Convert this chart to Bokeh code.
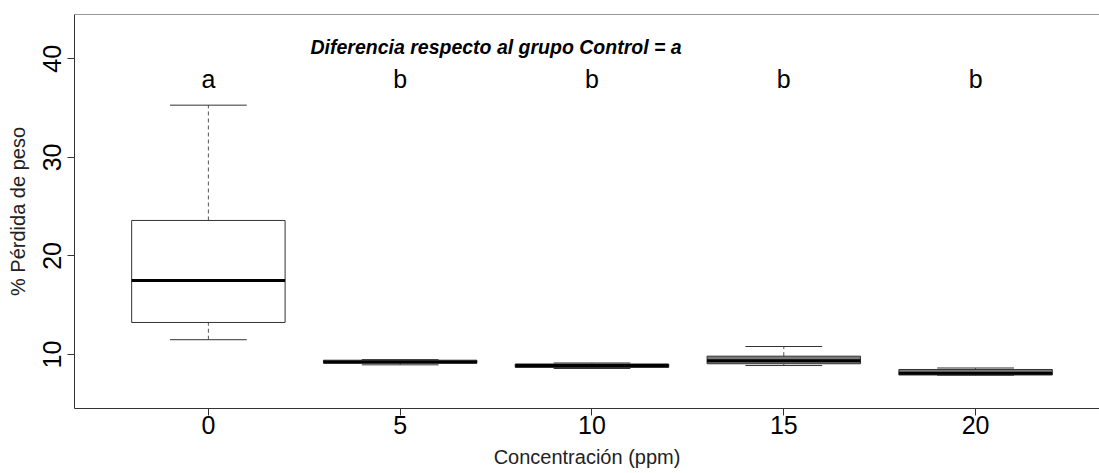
import math
from bokeh.plotting import figure
from bokeh.models import Range1d, FixedTicker, Span, ColumnDataSource
from bokeh.core.properties import value
from bokeh.embed import file_html
from bokeh.resources import INLINE

# ---- data ----
concentrations = ["0", "5", "10", "15", "20"]
whisker_low = [11.5, 8.95, 8.58, 8.88, 7.90]
q1 = [13.25, 9.12, 8.68, 9.06, 7.92]
median = [17.5, 9.25, 8.88, 9.36, 8.10]
q3 = [23.6, 9.42, 9.04, 9.83, 8.48]
whisker_high = [35.3, 9.48, 9.14, 10.81, 8.63]
letters = ["a", "b", "b", "b", "b"]
box_fill = ["white", "#7a7a7a", "#7a7a7a", "#7a7a7a", "#7a7a7a"]
title_text = "Diferencia respecto al grupo Control = a"

FONT = "Liberation Sans"
pos = list(range(1, len(concentrations) + 1))
half = 0.4
cap = 0.2

src = ColumnDataSource(dict(
    x=pos,
    left=[p_ - half for p_ in pos], right=[p_ + half for p_ in pos],
    cl=[p_ - cap for p_ in pos], cr=[p_ + cap for p_ in pos],
    lo=whisker_low, q1=q1, med=median, q3=q3, hi=whisker_high,
    fill=box_fill, lab=letters,
))

p = figure(width=1099, height=473, output_backend="svg", toolbar_location=None,
           x_range=Range1d(0.302, 5.646), y_range=Range1d(4.52, 44.5),
           min_border_left=74, min_border_right=0, min_border_top=14,
           min_border_bottom=65)
p.outline_line_color = None
p.grid.visible = False
p.background_fill_color = "white"
p.border_fill_color = "white"

# whiskers (dashed)
p.segment(x0="x", y0="q3", x1="x", y1="hi", source=src, line_color="#555555",
          line_width=1, line_dash="4 3")
p.segment(x0="x", y0="lo", x1="x", y1="q1", source=src, line_color="#555555",
          line_width=1, line_dash="4 3")
# caps
p.segment(x0="cl", y0="hi", x1="cr", y1="hi", source=src, line_color="#333333", line_width=1)
p.segment(x0="cl", y0="lo", x1="cr", y1="lo", source=src, line_color="#333333", line_width=1)
# boxes
p.quad(left="left", right="right", bottom="q1", top="q3", source=src,
       fill_color="fill", line_color="#333333", line_width=1)
# medians
p.segment(x0="left", y0="med", x1="right", y1="med", source=src, line_color="black",
          line_width=3)

# significance letters
letter_y = 38.0
p.text(x="x", y=letter_y, text="lab", source=src, text_font=value(FONT),
       text_font_size="25px", text_align="center", text_baseline="alphabetic",
       text_color="black")
# annotation
p.text(x=[2.5], y=[41.25], text=[title_text], text_font=value(FONT),
       text_font_size="19.5px", text_font_style="bold italic", text_align="center",
       text_baseline="alphabetic", text_color="black")

# frame lines
p.add_layout(Span(location=44.5, dimension="width", line_color="#333333", line_width=1))

# axes
xa = p.xaxis[0]
xa.ticker = FixedTicker(ticks=pos)
xa.major_label_overrides = {p_: c for p_, c in zip(pos, concentrations)}
xa.axis_label = "Concentración (ppm)"
ya = p.yaxis[0]
ya.ticker = FixedTicker(ticks=[10, 20, 30, 40])
ya.axis_label = "% Pérdida de peso"
ya.major_label_orientation = "vertical"
for ax in (xa, ya):
    ax.axis_line_color = "#333333"
    ax.major_tick_line_color = "#333333"
    ax.major_tick_out = 7
    ax.major_tick_in = 0
    ax.minor_tick_line_color = None
    ax.major_label_text_font = FONT
    ax.major_label_text_font_size = "25px"
    ax.major_label_text_color = "black"
    ax.axis_label_text_font = FONT
    ax.axis_label_text_font_size = "20px"
    ax.axis_label_text_font_style = "normal"
    ax.axis_label_text_color = "#222222"
xa.major_label_standoff = 0
xa.axis_label_standoff = 9
ya.major_label_standoff = 6
ya.axis_label_standoff = 12

open("out.html", "w").write(file_html(p, INLINE))
